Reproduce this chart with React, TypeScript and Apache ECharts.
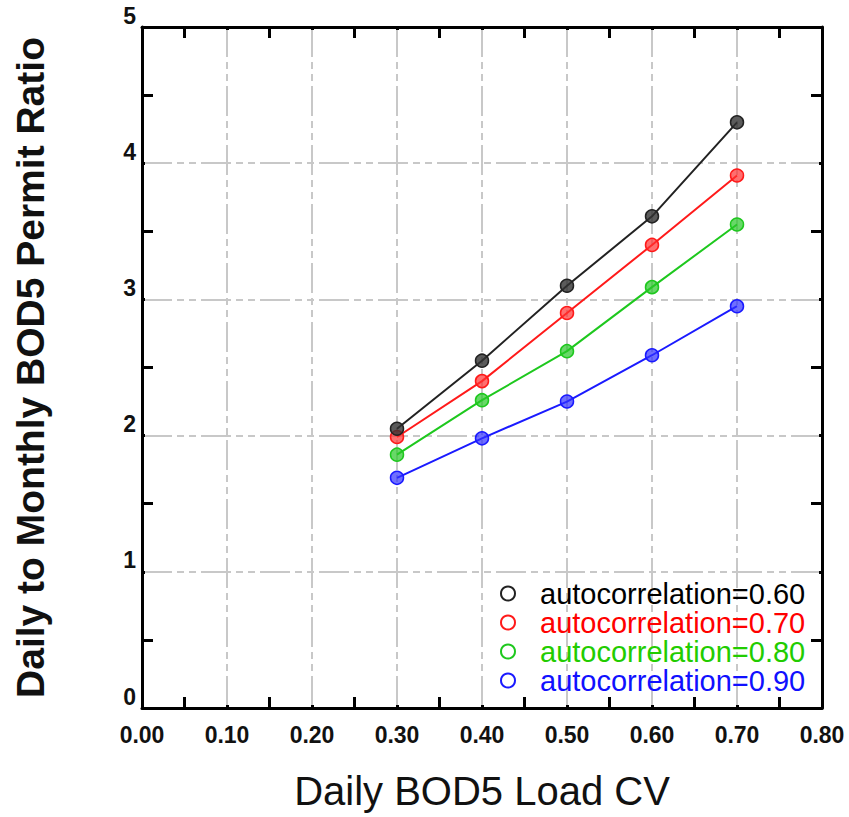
import React, { useEffect, useRef } from "react";
import * as echarts from "echarts";

const cvValues = [0.3, 0.4, 0.5, 0.6, 0.7];
const seriesNames = [
  "autocorrelation=0.60",
  "autocorrelation=0.70",
  "autocorrelation=0.80",
  "autocorrelation=0.90",
];
const ac060 = [2.05, 2.55, 3.1, 3.61, 4.3];
const ac070 = [1.99, 2.4, 2.9, 3.4, 3.91];
const ac080 = [1.86, 2.26, 2.62, 3.09, 3.55];
const ac090 = [1.69, 1.98, 2.25, 2.59, 2.95];
const seriesValues = [ac060, ac070, ac080, ac090];
const lineColors = ["#222222", "#ff1a1a", "#1ec81e", "#1a1aff"];
const fillColors = [
  "rgba(50,50,50,0.8)",
  "rgba(255,50,50,0.7)",
  "rgba(40,200,40,0.7)",
  "rgba(50,50,255,0.7)",
];
const legendTextColors = ["#000000", "#ff0000", "#22cc00", "#1010ff"];
const xTickLabels = ["0.00", "0.10", "0.20", "0.30", "0.40", "0.50", "0.60", "0.70", "0.80"];

const FONT = "'Liberation Sans', Arial, sans-serif";
const gridDash = [30, 5, 7, 5, 7, 5];

export default function App() {
  const ref = useRef<HTMLDivElement>(null);
  useEffect(() => {
    if (!ref.current) return;
    const chart = echarts.init(ref.current, undefined, { renderer: "svg" });
    const axisLineStyle = { show: true, onZero: false, lineStyle: { color: "#000", width: 3 } };
    const minorTick = { show: true, splitNumber: 2, length: 11, lineStyle: { color: "#000", width: 3 } };
    const majorTick = { show: true, inside: true, length: 3, lineStyle: { color: "#000", width: 3 } };
    chart.setOption({
      animation: false,
      backgroundColor: "#ffffff",
      grid: {
        left: 142,
        right: 27,
        top: 27,
        bottom: 109,
        containLabel: false,
        outerBoundsMode: "none",
      },
      legend: {
        orient: "vertical",
        left: 495,
        top: 574,
        itemWidth: 14,
        itemHeight: 14,
        itemGap: 0,
        textStyle: { fontFamily: FONT, fontSize: 29, lineHeight: 26.5, padding: [0, 0, 0, 20] },
        data: seriesNames.map((n, i) => ({
          name: n,
          icon: "emptyCircle",
          itemStyle: { color: lineColors[i], borderColor: lineColors[i], borderWidth: 2 },
          textStyle: { color: legendTextColors[i] },
        })),
      },
      xAxis: [
        {
          type: "value",
          min: 0,
          max: 0.8,
          interval: 0.1,
          position: "bottom",
          name: "Daily BOD5 Load CV",
          nameLocation: "middle",
          nameGap: 63,
          nameTextStyle: { fontFamily: FONT, fontSize: 40, color: "#111" },
          axisLine: axisLineStyle,
          axisTick: majorTick,
          minorTick: { ...minorTick },
          axisLabel: {
            fontFamily: FONT,
            fontSize: 23,
            fontWeight: "bold",
            color: "#111",
            margin: 15,
            formatter: (v: number) => xTickLabels[Math.round(v * 10)] ?? v.toFixed(2),
          },
          splitLine: { show: true, lineStyle: { color: "#c8c8c8", width: 2, type: gridDash } },
        },
        {
          type: "value",
          min: 0,
          max: 0.8,
          interval: 0.1,
          position: "top",
          axisLine: axisLineStyle,
          axisTick: majorTick,
          minorTick: { ...minorTick },
          axisLabel: { show: false },
          splitLine: { show: false },
        },
      ],
      yAxis: [
        {
          type: "value",
          min: 0,
          max: 5,
          interval: 1,
          position: "left",
          name: "Daily to Monthly BOD5 Permit Ratio",
          nameLocation: "middle",
          nameGap: 92,
          nameTextStyle: { fontFamily: FONT, fontSize: 39, fontWeight: "bold", color: "#111" },
          axisLine: axisLineStyle,
          axisTick: majorTick,
          minorTick: { ...minorTick },
          axisLabel: {
            fontFamily: FONT,
            fontSize: 23,
            fontWeight: "bold",
            color: "#111",
            margin: 6,
            verticalAlign: "bottom",
          },
          splitLine: { show: true, lineStyle: { color: "#c8c8c8", width: 2, type: gridDash } },
        },
        {
          type: "value",
          min: 0,
          max: 5,
          interval: 1,
          position: "right",
          axisLine: axisLineStyle,
          axisTick: majorTick,
          minorTick: { ...minorTick },
          axisLabel: { show: false },
          splitLine: { show: false },
        },
      ],
      series: seriesNames.map((n, i) => ({
        name: n,
        type: "line",
        xAxisIndex: 0,
        yAxisIndex: 0,
        data: cvValues.map((x, j) => [x, seriesValues[i][j]]),
        symbol: "circle",
        symbolSize: 13,
        lineStyle: { color: lineColors[i], width: 2 },
        itemStyle: { color: fillColors[i], borderColor: lineColors[i], borderWidth: 1.5 },
        z: 10 - i,
      })),
    });
    return () => chart.dispose();
  }, []);
  return (
    <div
      ref={ref}
      style={{ position: "absolute", left: 0, top: 0, width: 849, height: 817 }}
    />
  );
}
